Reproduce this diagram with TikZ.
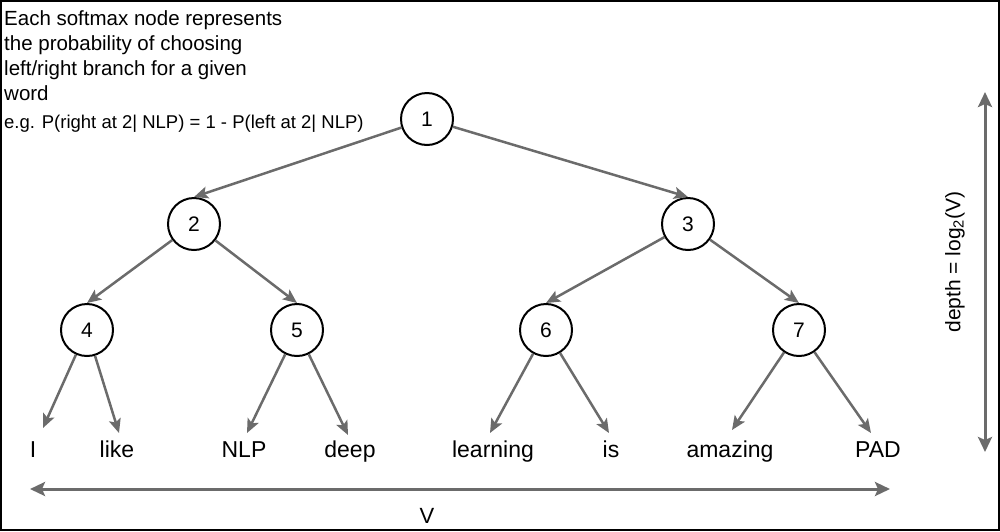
\documentclass[tikz,border=0pt]{standalone}
\usepackage{fontspec}
\setmainfont{Liberation Sans}
\usetikzlibrary{arrows.meta}
\definecolor{arrowgray}{HTML}{6B6B6B}
\tikzset{
  softmax/.style={circle, draw=black, line width=2pt, minimum size=52pt, inner sep=0pt,
                  font=\fontsize{21}{25}\selectfont},
  word/.style={anchor=base, inner sep=0pt, font=\fontsize{23}{27}\selectfont},
  branch/.style={draw=arrowgray, line width=2.5pt,
                 -{Stealth[length=14pt, width=12pt, inset=3pt]}},
  dim/.style={draw=arrowgray, line width=3pt,
              {Stealth[length=15pt, width=14pt, inset=3pt]}-{Stealth[length=15pt, width=14pt, inset=3pt]}},
  note/.style={anchor=north west, inner sep=0pt, align=left}
}
\begin{document}
\begin{tikzpicture}[x=1pt, y=-1pt]
\useasboundingbox (0,0) rectangle (1000,531);
\draw[line width=2pt] (1,1) rectangle (999,530);

% explanatory text
\node[note, font=\fontsize{20.5}{25}\selectfont] (txt) at (4,10)
  {Each softmax node represents\\the probability of choosing\\left/right branch for a given\\word};
\node[anchor=base west, inner sep=0pt, font=\fontsize{18.5}{22}\selectfont] (eg) at (4,128)
  {e.g. P(right at 2| NLP) = 1 - P(left at 2| NLP)};

% softmax nodes
\node[softmax] (n1) at (427,119) {1};
\node[softmax] (n2) at (194,224) {2};
\node[softmax] (n3) at (688,224) {3};
\node[softmax] (n4) at (87,330) {4};
\node[softmax] (n5) at (297,330) {5};
\node[softmax] (n6) at (546,330) {6};
\node[softmax] (n7) at (799,330) {7};

% words
\node[word] (wI) at (33,457) {I};
\node[word] (wlike) at (117,457) {like};
\node[word] (wNLP) at (244,457) {NLP};
\node[word] (wdeep) at (350,457) {deep};
\node[word] (wlearning) at (493,457) {learning};
\node[word] (wis) at (611,457) {is};
\node[word] (wamazing) at (730,457) {amazing};
\node[word] (wPAD) at (878,457) {PAD};

% arrow tips above the words
\coordinate (tI) at (43,428);
\coordinate (tlike) at (119,433);
\coordinate (tNLP) at (247,433);
\coordinate (tdeep) at (348,435);
\coordinate (tlearning) at (490,433);
\coordinate (tis) at (609,433);
\coordinate (tamazing) at (732,430);
\coordinate (tPAD) at (871,433);

% tree branches
\draw[branch] (n1) -- (n2.north);
\draw[branch] (n1) -- (n3.north);
\draw[branch] (n2) -- (n4.north);
\draw[branch] (n2) -- (n5.north);
\draw[branch] (n3) -- (n6.north);
\draw[branch] (n3) -- (n7.north);
\draw[branch] (n4) -- (tI);
\draw[branch] (n4) -- (tlike);
\draw[branch] (n5) -- (tNLP);
\draw[branch] (n5) -- (tdeep);
\draw[branch] (n6) -- (tlearning);
\draw[branch] (n6) -- (tis);
\draw[branch] (n7) -- (tamazing);
\draw[branch] (n7) -- (tPAD);

% dimensions
\coordinate (hl) at (30,489);
\coordinate (hr) at (890,489);
\draw[dim] (hl) -- (hr);
\node[anchor=base, inner sep=0pt, font=\fontsize{22}{26}\selectfont] (V) at (427,523) {V};

\coordinate (vt) at (985,92);
\coordinate (vb) at (985,452);
\draw[dim] (vt) -- (vb);
\node[rotate=90, inner sep=0pt, font=\fontsize{21}{25}\selectfont] (depth) at (955,262)
  {depth = log\textsubscript{2}(V)};
\end{tikzpicture}
\end{document}
